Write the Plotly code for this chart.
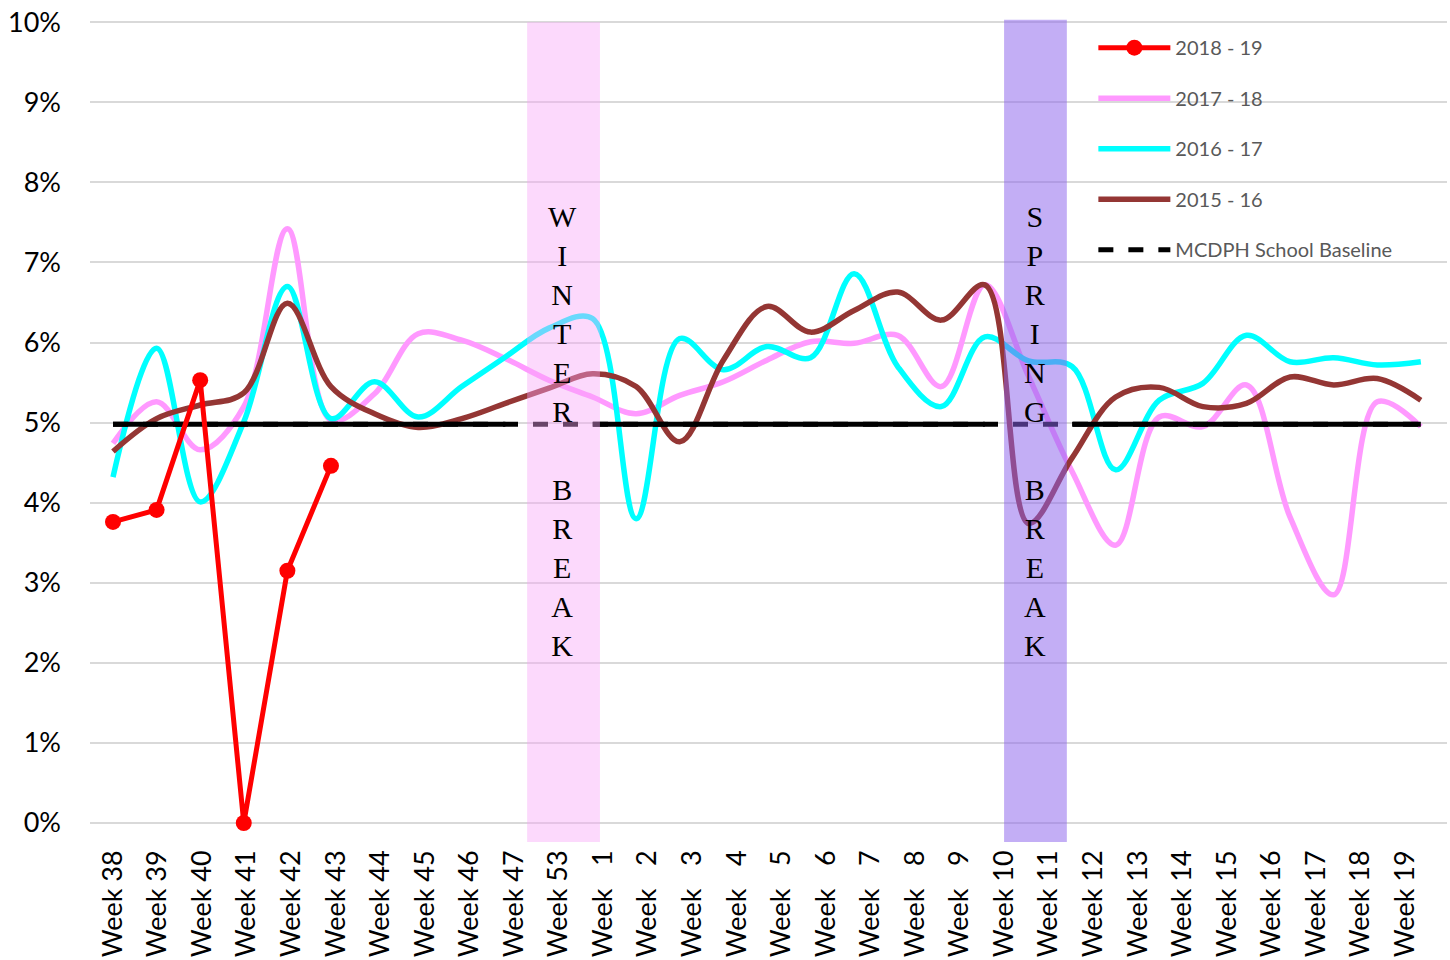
import plotly.graph_objects as go

# ---------------- data ----------------
weeks = ["Week 38", "Week 39", "Week 40", "Week 41", "Week 42", "Week 43", "Week 44",
         "Week 45", "Week 46", "Week 47", "Week 53", "Week 1", "Week 2", "Week 3",
         "Week 4", "Week 5", "Week 6", "Week 7", "Week 8", "Week 9", "Week 10",
         "Week 11", "Week 12", "Week 13", "Week 14", "Week 15", "Week 16", "Week 17",
         "Week 18", "Week 19"]
data_weeks = weeks + ["Week 20"]

s2018_19 = [3.76, 3.91, 5.53, 0.0, 3.15, 4.46]
s2017_18 = [4.74, 5.26, 4.66, 5.20, 7.42, 5.03, 5.36, 6.11, 6.03, 5.80, 5.53,
            5.32, 5.11, 5.34, 5.51, 5.78, 6.01, 5.99, 6.09, 5.45, 6.72,
            5.58, 4.39, 3.47, 5.07, 4.95, 5.47, 3.82, 2.85, 5.26, 4.95]
s2016_17 = [4.32, 5.93, 4.01, 5.01, 6.70, 5.05, 5.51, 5.07, 5.45, 5.82, 6.18,
            6.30, 3.80, 6.05, 5.66, 5.95, 5.81, 6.86, 5.70, 5.20, 6.07,
            5.77, 5.70, 4.41, 5.28, 5.49, 6.09, 5.76, 5.81, 5.72, 5.76]
s2015_16 = [4.64, 5.05, 5.22, 5.37, 6.49, 5.45, 5.11, 4.94, 5.05, 5.24, 5.43,
            5.61, 5.45, 4.76, 5.78, 6.45, 6.13, 6.40, 6.63, 6.28, 6.72,
            3.74, 4.56, 5.32, 5.44, 5.20, 5.24, 5.57, 5.47, 5.55, 5.28]
baseline_value = 4.98
break_weeks = ["Week 53", "Week 11"]

y_ticks = list(range(0, 11))
y_ticktext = [f"{v}%" for v in y_ticks]
label_positions = list(range(len(weeks)))


def pad_label(w):
    # keep the word "Week" aligned: one-digit weeks get a figure-space pad
    word, num = w.split(" ")
    return f"{word} {num}" if len(num) > 1 else f"{word} \u2007{num}"


tick_text = [pad_label(w) for w in weeks]

# ---------------- figure ----------------
fig = go.Figure()

LINE_AX = dict(xaxis="x2", yaxis="y")

# invisible carrier trace for the category-label axis
fig.add_trace(go.Scatter(x=label_positions, y=[None] * len(label_positions), mode="markers",
                         marker=dict(opacity=0), showlegend=False, hoverinfo="skip",
                         xaxis="x", yaxis="y"))

fig.add_trace(go.Scatter(x=data_weeks, y=s2017_18, name="2017 - 18", mode="lines",
                         line=dict(color="#FF99FF", width=5.5, shape="spline", smoothing=1.0),
                         legendrank=2, legendgroup="g2", **LINE_AX))
fig.add_trace(go.Scatter(x=data_weeks, y=s2016_17, name="2016 - 17", mode="lines",
                         line=dict(color="#00FFFF", width=5.5, shape="spline", smoothing=1.0),
                         legendrank=3, legendgroup="g3", **LINE_AX))
fig.add_trace(go.Scatter(x=data_weeks, y=s2015_16, name="2015 - 16", mode="lines",
                         line=dict(color="#943634", width=5.5, shape="spline", smoothing=1.0),
                         legendrank=4, legendgroup="g4", **LINE_AX))

# baseline: dashed full line (legend) + solid outside breaks
fig.add_trace(go.Scatter(x=data_weeks, y=[baseline_value] * len(data_weeks),
                         name="MCDPH School Baseline", mode="lines",
                         line=dict(color="black", width=5, dash="dash"),
                         legendrank=5, legendgroup="g5", **LINE_AX))
solid = [None if w in break_weeks else baseline_value for w in data_weeks]
fig.add_trace(go.Scatter(x=data_weeks, y=solid, mode="lines", showlegend=False,
                         connectgaps=False, line=dict(color="black", width=5),
                         hoverinfo="skip", **LINE_AX))

fig.add_trace(go.Scatter(x=data_weeks[:len(s2018_19)], y=s2018_19, name="2018 - 19",
                         mode="lines+markers",
                         line=dict(color="#FF0000", width=5),
                         marker=dict(color="#FF0000", size=16),
                         legendrank=1, legendgroup="g1", **LINE_AX))

# break shading (above the lines, semi-transparent)
fig.add_shape(type="rect", xref="x2", yref="y", x0=9.5, x1=11.17, y0=-0.25, y1=10.0,
              fillcolor="rgba(248,165,248,0.42)", line=dict(width=0), layer="above")
fig.add_shape(type="rect", xref="x2", yref="y", x0=20.44, x1=21.88, y0=-0.25, y1=10.03,
              fillcolor="rgba(140,100,235,0.52)", line=dict(width=0), layer="above")

serif = dict(family="Liberation Serif, Times New Roman, serif", size=30, color="black")
fig.add_annotation(x=10.32, xref="x2", y=7.8, yref="y", yanchor="top", showarrow=False,
                   text="W<br>I<br>N<br>T<br>E<br>R<br><br>B<br>R<br>E<br>A<br>K",
                   font=serif, align="center")
fig.add_annotation(x=21.15, xref="x2", y=7.8, yref="y", yanchor="top", showarrow=False,
                   text="S<br>P<br>R<br>I<br>N<br>G<br><br>B<br>R<br>E<br>A<br>K",
                   font=serif, align="center")

fig.update_layout(
    width=1450, height=960,
    margin=dict(l=90, r=3, t=19, b=118, autoexpand=False),
    paper_bgcolor="white", plot_bgcolor="white",
    font=dict(family="Lato, Carlito, Calibri, sans-serif", color="black"),
    showlegend=True,
    legend=dict(x=0.7394, y=0.9889, xanchor="left", yanchor="top",
                font=dict(size=20, color="#595959"), bgcolor="rgba(0,0,0,0)",
                tracegroupgap=21.5, itemwidth=72, traceorder="grouped"),
    xaxis=dict(type="linear", range=[-0.516, 29.94], tickmode="array",
               tickvals=label_positions, ticktext=tick_text, tickangle=-90,
               showgrid=False, zeroline=False, showline=False, ticks="",
               automargin=False,
               tickfont=dict(size=27, color="black"), ticklabelstandoff=2),
    xaxis2=dict(type="category", categoryorder="array", categoryarray=data_weeks,
                overlaying="x", range=[-0.5275, 30.60], visible=False,
                automargin=False),
    yaxis=dict(range=[-0.237, 10.04], tickmode="array", tickvals=y_ticks,
               ticktext=y_ticktext, showgrid=True, gridcolor="#D9D9D9", gridwidth=2,
               zeroline=False, showline=False, ticks="", ticklabeloverflow="allow",
               automargin=False,
               tickfont=dict(size=27, color="black"), ticklabelstandoff=28),
)

# remove the browser's default 8px body margin so the figure fills the window
fig.write_html("out.html",
               config={"displayModeBar": False},
               post_script="document.body.style.margin='0';document.body.style.overflow='hidden';")
